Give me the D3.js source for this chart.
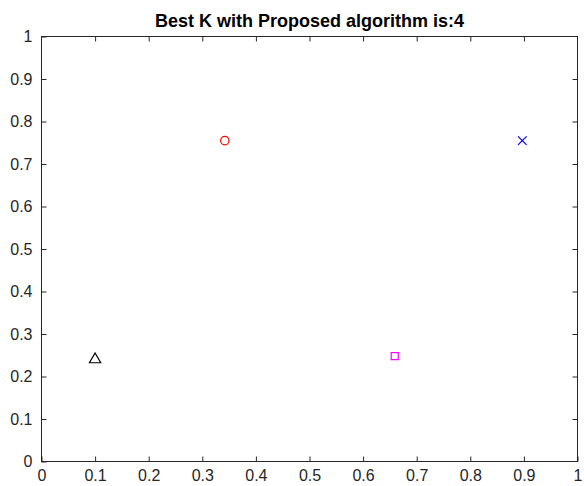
<!DOCTYPE html>
<html>
<head>
<meta charset="utf-8">
<script src="https://d3js.org/d3.v7.min.js"></script>
<style>
  body { margin: 0; background: #fff; }
  svg { display: block; font-family: "Liberation Sans", Arial, sans-serif; }
</style>
</head>
<body>
<div id="chart"></div>
<script>
// Data
const clusters = ["c1", "c2", "c3", "c4"];
const xs = [0.342, 0.897, 0.659, 0.100];
const ys = [0.755, 0.755, 0.248, 0.240];
const symbols = ["circle", "cross", "square", "triangle"];
const colors = ["#ff0000", "#0000ff", "#ff00ff", "#000000"];
const ticks = [0, 0.1, 0.2, 0.3, 0.4, 0.5, 0.6, 0.7, 0.8, 0.9, 1];
const title = "Best K with Proposed algorithm is:4";

const width = 584, height = 486;
const margin = { top: 36.5, right: 6.5, bottom: 24.5, left: 41.5 };

const svg = d3.select("#chart").append("svg")
  .attr("width", width)
  .attr("height", height);

const x = d3.scaleLinear().domain([0, 1]).range([margin.left, width - margin.right]);
const y = d3.scaleLinear().domain([0, 1]).range([height - margin.bottom, margin.top]);

const axisColor = "#262626";
const fmt = d => d === 0 ? "0" : d === 1 ? "1" : d3.format(".1f")(d);

// box
svg.append("rect")
  .attr("x", x(0)).attr("y", y(1))
  .attr("width", x(1) - x(0)).attr("height", y(0) - y(1))
  .attr("fill", "none").attr("stroke", axisColor).attr("stroke-width", 1);

// axes with inward ticks
function styleAxis(g) {
  g.select(".domain").remove();
  g.selectAll(".tick line").attr("stroke", axisColor);
  g.selectAll(".tick text").attr("fill", axisColor).attr("font-size", 16)
    .attr("font-family", "Liberation Sans, Arial, sans-serif");
}

svg.append("g").attr("transform", `translate(0,${y(0)})`)
  .call(d3.axisBottom(x).tickValues(ticks).tickFormat(fmt).tickSizeInner(-5).tickPadding(8))
  .call(styleAxis);
svg.append("g").attr("transform", `translate(0,${y(1)})`)
  .call(d3.axisTop(x).tickValues(ticks.slice(1, -1)).tickFormat("").tickSizeInner(-5))
  .call(styleAxis);
svg.append("g").attr("transform", `translate(${x(0)},0)`)
  .call(d3.axisLeft(y).tickValues(ticks).tickFormat(fmt).tickSizeInner(-5).tickPadding(9))
  .call(styleAxis);
svg.append("g").attr("transform", `translate(${x(1)},0)`)
  .call(d3.axisRight(y).tickValues(ticks.slice(1, -1)).tickFormat("").tickSizeInner(-5))
  .call(styleAxis);

// title
svg.append("text")
  .attr("x", (x(0) + x(1)) / 2)
  .attr("y", 27)
  .attr("text-anchor", "middle")
  .attr("font-size", 18)
  .attr("font-weight", "bold")
  .attr("fill", "#000")
  .text(title);

// markers
const symType = { circle: d3.symbolCircle, cross: d3.symbolTimes, square: d3.symbolSquare, triangle: d3.symbolTriangle };
const symSize = { circle: 55, cross: 50, square: 50, triangle: 55 };

svg.selectAll(".pt")
  .data(clusters.map((c, i) => ({ c, x: xs[i], y: ys[i], s: symbols[i], col: colors[i] })))
  .enter()
  .append("path")
  .attr("class", "pt")
  .attr("transform", d => `translate(${x(d.x)},${y(d.y)})`)
  .attr("d", d => d3.symbol().type(symType[d.s]).size(symSize[d.s])())
  .attr("fill", "none")
  .attr("stroke", d => d.col)
  .attr("stroke-width", 1.2);
</script>
</body>
</html>
